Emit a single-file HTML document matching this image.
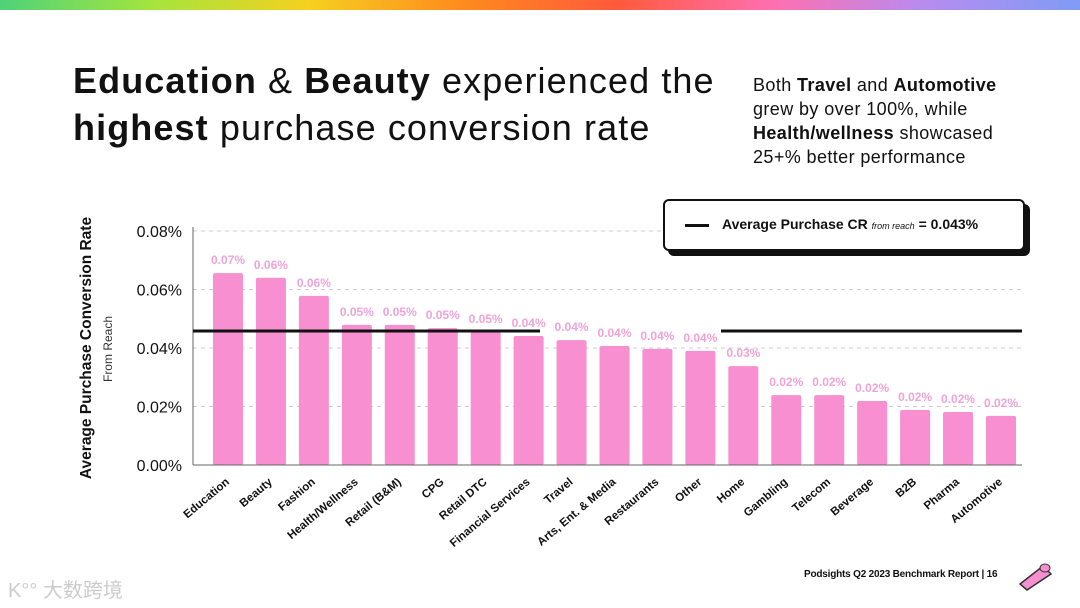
<!DOCTYPE html>
<html><head><meta charset="utf-8"><style>
body{margin:0;width:1080px;height:608px;overflow:hidden;background:#fff;font-family:"Liberation Sans",sans-serif;position:relative}
.topbar{position:absolute;left:0;top:0;width:1080px;height:10px;background:linear-gradient(90deg,#4fd27a,#a6e43c,#f5d020,#ff8a1e,#ff5a3c,#ff6fb0,#b68cf0,#7f9cf5)}
.title{position:absolute;left:73px;top:57px;font-size:36px;line-height:47px;color:#111;letter-spacing:1.1px;white-space:nowrap}
.sub{position:absolute;left:753px;top:73px;font-size:18px;line-height:24px;color:#111;letter-spacing:0.4px}
.legend{position:absolute;left:663px;top:199px;width:358px;height:48px;border:2px solid #111;border-radius:6px;background:#fff;box-shadow:5px 5px 0 #111}
.footer{position:absolute;left:804px;top:569px;font-size:10px;font-weight:bold;color:#111;letter-spacing:-0.2px}
.wm{position:absolute;left:8px;top:574px;font-size:20px;color:#ccc;font-family:"Liberation Sans","Noto Sans CJK SC",sans-serif}
</style></head><body>
<div class="topbar"></div>
<div class="title"><b>Education</b> &amp; <b>Beauty</b> experienced the<br><b>highest</b> purchase conversion rate</div>
<div class="sub">Both <b>Travel</b> and <b>Automotive</b><br>grew by over 100%, while<br><b>Health/wellness</b> showcased<br>25+% better performance</div>
<svg id="chart" width="1080" height="608" style="position:absolute;left:0;top:0"></svg>
<div class="legend">
<div style="position:absolute;left:20px;top:23px;width:24px;height:3px;background:#111"></div>
<div style="position:absolute;left:57px;top:15px;font-size:14px;font-weight:bold;color:#111;white-space:nowrap">Average Purchase CR <i style="font-weight:normal;font-size:9px">from reach</i> = 0.043%</div>
</div>
<div class="footer">Podsights Q2 2023 Benchmark Report | 16</div>
<svg style="position:absolute;left:1015px;top:552px" width="45" height="40"><path d="M5 32 L28 14 L36 22 L12 38 Z" fill="#f58fd0" stroke="#333" stroke-width="1.5"/><ellipse cx="30" cy="16" rx="5" ry="4" fill="#f58fd0" stroke="#333"/></svg>
<div class="wm">K°° 大数跨境</div>
<script>
const categories=["Education","Beauty","Fashion","Health/Wellness","Retail (B&M)","CPG","Retail DTC","Financial Services","Travel","Arts, Ent. & Media","Restaurants","Other","Home","Gambling","Telecom","Beverage","B2B","Pharma","Automotive"];
const values=[0.0656,0.064,0.0578,0.0479,0.0479,0.0468,0.0455,0.0441,0.0427,0.0407,0.0397,0.039,0.0338,0.0239,0.0239,0.0219,0.0188,0.0181,0.0168];
const labels=["0.07%","0.06%","0.06%","0.05%","0.05%","0.05%","0.05%","0.04%","0.04%","0.04%","0.04%","0.04%","0.03%","0.02%","0.02%","0.02%","0.02%","0.02%","0.02%"];
const yTicks=[0,0.02,0.04,0.06,0.08];
const yTickLabels=["0.00%","0.02%","0.04%","0.06%","0.08%"];
const average=[0.0458];
const NS="http://www.w3.org/2000/svg";
const svg=document.getElementById('chart');
const x0=193,x1=1022,y0=465,y1=231,ymax=0.08;
const step=(1001-228)/18;
function xs(i){return 228+i*step;}
function ys(v){return y0-(v/ymax)*(y0-y1);}
function mk(t,a){const e=document.createElementNS(NS,t);for(const k in a)e.setAttribute(k,a[k]);svg.appendChild(e);return e;}
yTicks.forEach((t,i)=>{
 if(t>0){const g=mk('line',{x1:x0,x2:x1,y1:ys(t),y2:ys(t),stroke:'#ccc','stroke-dasharray':'4 4'});
 
 }
 const tl=mk('text',{x:182,y:ys(t)+6,'text-anchor':'end','font-size':16,fill:'#111'});
 tl.textContent=yTickLabels[i];
 
 
});
const ax=mk('line',{x1:x0,x2:x0,y1:y1-4,y2:y0,stroke:'#666'});


values.forEach((v,i)=>{
 const b=mk('rect',{x:xs(i)-15,y:ys(v),width:30,height:y0-ys(v),rx:2,fill:'#f78fd0'});
 
 
 const l=mk('text',{x:xs(i),y:ys(v)-9,'text-anchor':'middle','font-size':12,'font-weight':'bold',fill:'#efa3d8'});
 l.textContent=labels[i];
 
 
 const c=mk('text',{x:xs(i)+2,y:483,'text-anchor':'end','font-size':11.5,'font-weight':'bold',fill:'#111',transform:`rotate(-40 ${xs(i)+2} 483)`});
 c.textContent=categories[i];
 
 
});
const xa=mk('line',{x1:x0,x2:x1,y1:y0,y2:y0,stroke:'#666'});


const ay=ys(average[0]);
const a1=mk('line',{x1:x0,x2:540,y1:ay,y2:ay,stroke:'#111','stroke-width':3});


const a2=mk('line',{x1:721,x2:x1,y1:ay,y2:ay,stroke:'#111','stroke-width':3});


const yt=mk('text',{x:91,y:348,'text-anchor':'middle','font-size':15.5,'font-weight':'bold',fill:'#111',transform:'rotate(-90 91 348)'});
yt.textContent='Average Purchase Conversion Rate';


const ys2=mk('text',{x:112,y:349,'text-anchor':'middle','font-size':12,fill:'#333',transform:'rotate(-90 112 349)'});
ys2.textContent='From Reach';


</script>
</body></html>
